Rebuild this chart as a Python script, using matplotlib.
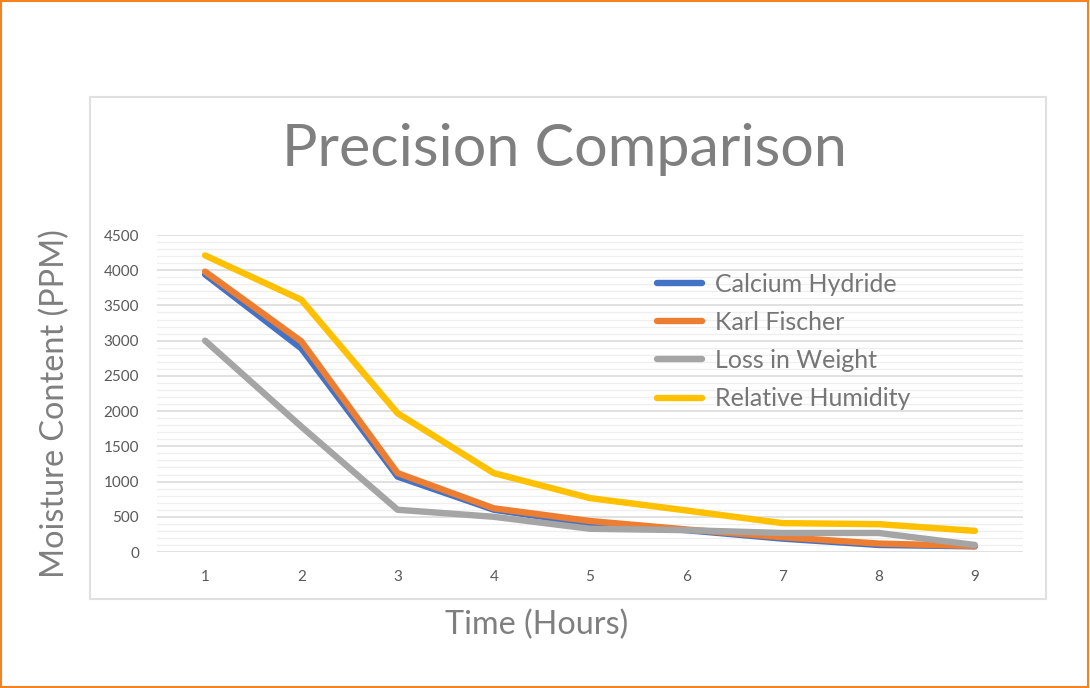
import matplotlib.pyplot as plt
from matplotlib.patches import Rectangle
from matplotlib.ticker import MultipleLocator

plt.rcParams['font.family'] = ['Lato', 'DejaVu Sans']

hours = [1, 2, 3, 4, 5, 6, 7, 8, 9]
calcium_hydride = [3940, 2890, 1070, 600, 400, 310, 190, 100, 80]
karl_fischer = [3980, 2990, 1120, 620, 440, 320, 210, 120, 85]
loss_in_weight = [3000, 1780, 600, 500, 330, 310, 270, 270, 100]
relative_humidity = [4210, 3580, 1970, 1120, 765, 590, 410, 395, 300]

series = [
    ("Calcium Hydride", calcium_hydride, "#4472c4"),
    ("Karl Fischer", karl_fischer, "#ed7d31"),
    ("Loss in Weight", loss_in_weight, "#a5a5a5"),
    ("Relative Humidity", relative_humidity, "#ffc000"),
]

fig = plt.figure(figsize=(10.9, 6.88), dpi=100)
ax = fig.add_axes([157 / 1090, 1 - 552 / 688, (1023 - 157) / 1090, (552 - 235) / 688])

for name, vals, col in series:
    ax.plot(hours, vals, color=col, lw=4.6, label=name, solid_capstyle='round', solid_joinstyle='round')

ax.set_xlim(0.5, 9.5)
ax.set_ylim(0, 4500)
ax.yaxis.set_major_locator(MultipleLocator(500))
ax.yaxis.set_minor_locator(MultipleLocator(100))
ax.set_xticks(hours)
ax.grid(which='major', axis='y', color='#d9d9d9', lw=1.1)
ax.grid(which='minor', axis='y', color='#efefef', lw=0.9)
ax.set_axisbelow(True)
for s in ax.spines.values():
    s.set_visible(False)
ax.tick_params(which='both', length=0, labelcolor='#595959', labelsize=11)
ax.tick_params(axis='x', pad=13)
ax.tick_params(axis='y', pad=13)

# axis titles and chart title
fig.text(55 / 1090, 1 - 404 / 688, "Moisture Content (PPM)", rotation=90, ha='center', va='center',
         fontsize=23.3, color='#7f7f7f')
fig.text(537 / 1090, 1 - 625 / 688, "Time (Hours)", ha='center', va='center',
         fontsize=23.3, color='#7f7f7f')
fig.text(564 / 1090, 1 - 149 / 688, "Precision Comparison", ha='center', va='center',
         fontsize=42.7, color='#7f7f7f')

ax.legend(loc='upper left', bbox_to_anchor=(634 / 1090, 1 - 250 / 688), bbox_transform=fig.transFigure,
          frameon=False, fontsize=18, labelcolor='#767676', handlelength=1.8, labelspacing=0.61,
          handletextpad=0.55)

fig.patches.append(Rectangle((90 / 1090, 1 - 599 / 688), (1046 - 90) / 1090, (599 - 97) / 688,
                             transform=fig.transFigure, fill=False, ec='#e0e0e0', lw=1.5, zorder=-1))
fig.patches.append(Rectangle((0.001, 0.001), 0.997, 0.997, transform=fig.transFigure,
                             fill=False, ec='#f58220', lw=1.5))

fig.savefig("out.png", dpi=100)
